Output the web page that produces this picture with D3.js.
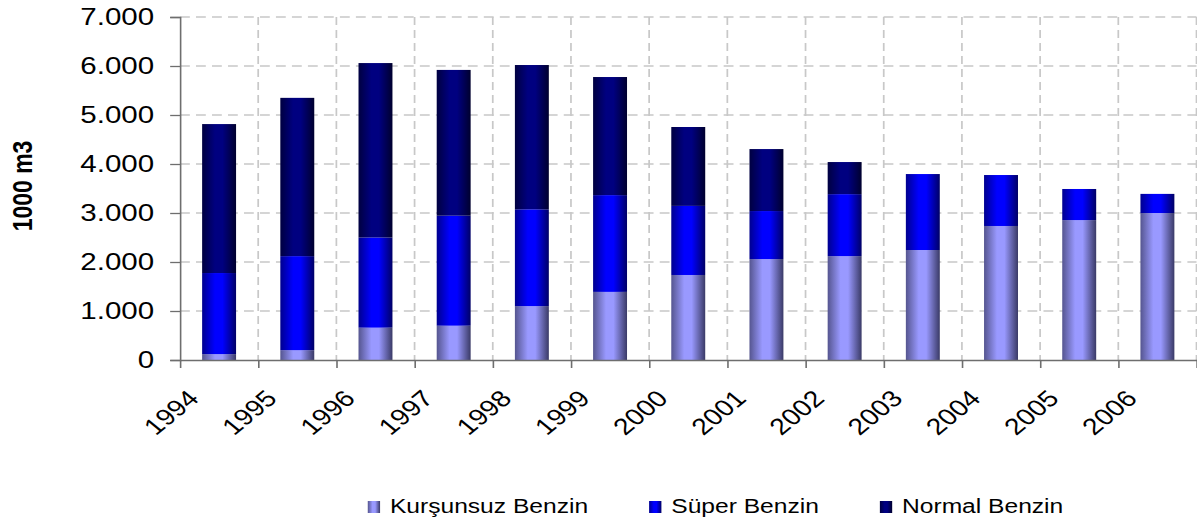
<html lang="tr">

<head>
    <meta charset="UTF-8">
    <script type="text/javascript" src="https://cdn.jsdelivr.net/npm/d3@7"></script>
    <title>Benzin</title>
    <style>
        body { margin: 0; background: #fff; }
        text { font-family: "Liberation Sans", Arial, sans-serif; fill: #000; }
    </style>
</head>

<body>
    <script type="text/javascript">

        // data (1000 m3)
        var years = ["1994", "1995", "1996", "1997", "1998", "1999", "2000",
                     "2001", "2002", "2003", "2004", "2005", "2006"];
        var kursunsuz = [120, 200, 660, 700, 1100, 1390, 1735, 2060, 2120, 2245, 2735, 2855, 3000];
        var superB    = [1655, 1920, 1840, 2245, 1975, 1975, 1410, 980, 1265, 1550, 1040, 635, 390];
        var normal    = [3040, 3230, 3560, 2975, 2945, 2410, 1610, 1265, 655, 0, 0, 0, 0];
        var seriesNames = ["Kurşunsuz Benzin", "Süper Benzin", "Normal Benzin"];
        var yTicks = [0, 1000, 2000, 3000, 4000, 5000, 6000, 7000];

        // the picture is stretched horizontally, so draw narrow and scale x
        var W = 1197, H = 521;
        var sx = 1.23;
        var plotLeft = 180 / sx, plotRight = 1196.5 / sx, plotTop = 17, plotBottom = 360;

        var rows = years.map(function (y, i) {
            return { year: y, k: kursunsuz[i], s: superB[i], n: normal[i] };
        });
        var keys = ["k", "s", "n"];
        var stack = d3.stack().keys(keys)(rows);

        var x = d3.scaleBand().domain(years).range([plotLeft, plotRight])
            .paddingInner(0.566).paddingOuter(0.283);
        var xEdge = d3.scaleLinear().domain([0, years.length]).range([plotLeft, plotRight]);
        var y = d3.scaleLinear().domain([0, 7000]).range([plotBottom, plotTop]);

        var fmt = d3.formatLocale({ decimal: ",", thousands: ".", grouping: [3], currency: ["", ""] }).format(",.0f");

        var svg = d3.select("body").append("svg")
            .attr("width", W)
            .attr("height", H);

        // gradients for the bars
        var colors = [
            { base: "#9999ff", edgeL: "#55558f", edgeR: "#3a3a66" },
            { base: "#0000ff", edgeL: "#00008f", edgeR: "#000066" },
            { base: "#000080", edgeL: "#000040", edgeR: "#00002e" }
        ];
        var defs = svg.append("defs");
        colors.forEach(function (c, i) {
            var g = defs.append("linearGradient").attr("id", "grad" + i)
                .attr("x1", "0%").attr("x2", "100%").attr("y1", "0%").attr("y2", "0%");
            g.append("stop").attr("offset", "0%").attr("stop-color", c.edgeL);
            g.append("stop").attr("offset", "38%").attr("stop-color", c.base);
            g.append("stop").attr("offset", "60%").attr("stop-color", c.base);
            g.append("stop").attr("offset", "100%").attr("stop-color", c.edgeR);
        });

        var chart = svg.append("g").attr("transform", "scale(" + sx + ",1)");

        // grid
        chart.append("g").selectAll("line")
            .data(yTicks.slice(1))
            .enter().append("line")
            .attr("x1", plotLeft).attr("x2", plotRight)
            .attr("y1", function (d) { return y(d); })
            .attr("y2", function (d) { return y(d); })
            .attr("stroke", "#c8c8c8").attr("stroke-width", 1.4)
            .attr("stroke-dasharray", "8,5");

        chart.append("g").selectAll("line")
            .data(d3.range(1, years.length + 1))
            .enter().append("line")
            .attr("x1", function (d) { return xEdge(d); })
            .attr("x2", function (d) { return xEdge(d); })
            .attr("y1", plotTop).attr("y2", plotBottom)
            .attr("stroke", "#c8c8c8").attr("stroke-width", 1.4)
            .attr("stroke-dasharray", "8,5");

        // bars
        chart.append("g").selectAll("g")
            .data(stack)
            .enter().append("g")
            .attr("fill", function (d, i) { return "url(#grad" + i + ")"; })
            .selectAll("rect")
            .data(function (d) { return d; })
            .enter().append("rect")
            .attr("x", function (d) { return x(d.data.year); })
            .attr("width", x.bandwidth())
            .attr("y", function (d) { return y(d[1]); })
            .attr("height", function (d) { return y(d[0]) - y(d[1]); });

        // y axis
        var yAxis = chart.append("g")
            .attr("transform", "translate(" + plotLeft + ",0)")
            .call(d3.axisLeft(y).tickValues(yTicks).tickFormat(fmt).tickSize(8).tickPadding(13));
        yAxis.selectAll("text").attr("font-size", "24px").attr("font-family", "Liberation Sans, Arial, sans-serif");

        // x axis
        var xAxis = chart.append("g")
            .attr("transform", "translate(0," + plotBottom + ")")
            .call(d3.axisBottom(xEdge).tickValues(d3.range(years.length + 1))
                .tickFormat(function (d) { return years[d] || ""; })
                .tickSize(8).tickSizeOuter(0));
        xAxis.selectAll("text")
            .attr("font-size", "23px")
            .attr("font-family", "Liberation Sans, Arial, sans-serif")
            .attr("text-anchor", "end")
            .attr("y", 0).attr("dy", 0)
            .attr("transform", "translate(16,40) rotate(-45)");

        chart.selectAll(".domain, .tick line").attr("stroke", "#6e6e6e").attr("stroke-width", 1.3);

        // y title
        chart.append("text")
            .attr("transform", "translate(26,186) rotate(-90)")
            .attr("text-anchor", "middle")
            .attr("font-size", "23px")
            .attr("font-weight", "bold")
            .text("1000 m3");

        // legend
        var lx = 299;
        seriesNames.forEach(function (name, i) {
            chart.append("rect")
                .attr("x", lx).attr("y", 501)
                .attr("width", 10).attr("height", 12)
                .attr("fill", "url(#grad" + i + ")");
            var t = chart.append("text")
                .attr("x", lx + 18).attr("y", 513)
                .attr("font-size", "20px")
                .text(name);
            lx += 18 + t.node().getComputedTextLength() + 49.6;
        });
    </script>

</body>

</html>
